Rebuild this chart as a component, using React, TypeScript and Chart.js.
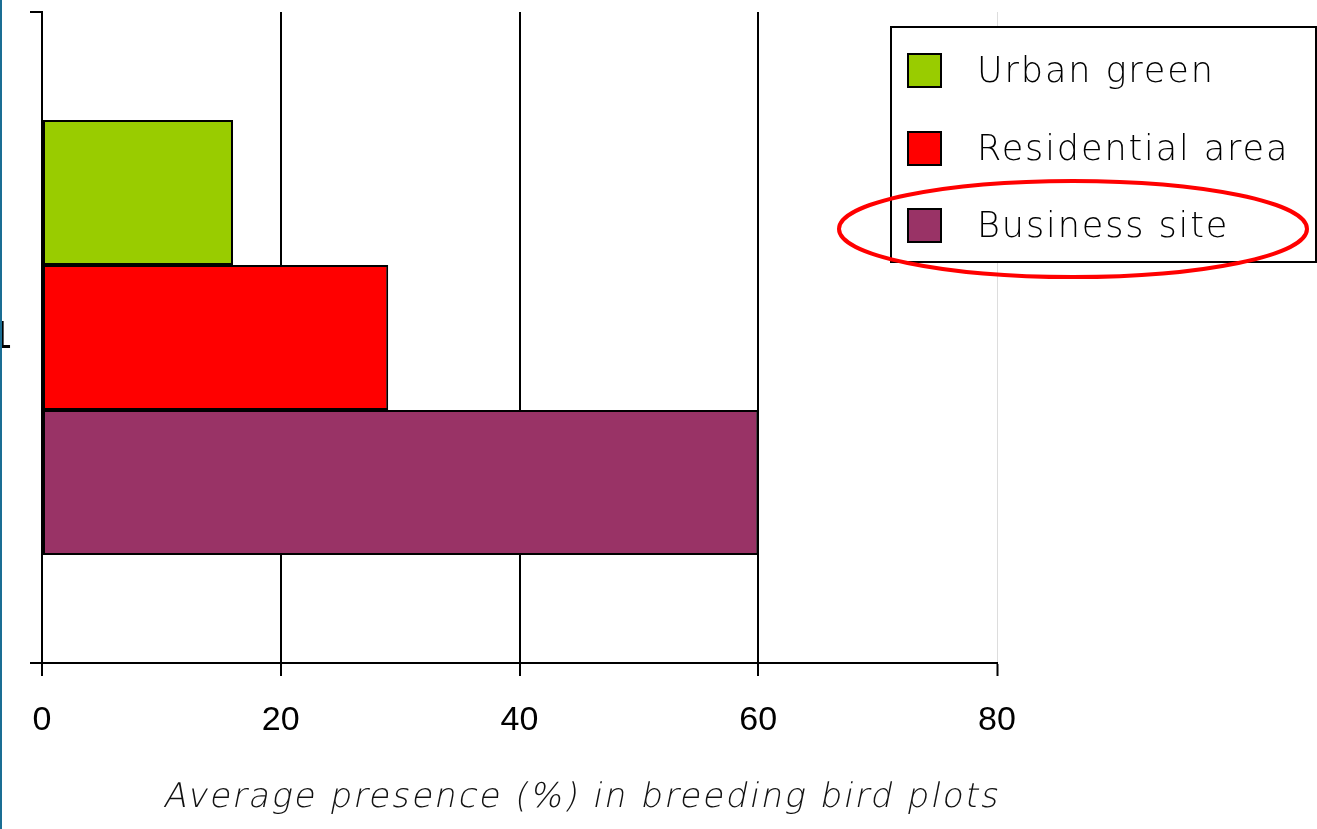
import React, { useEffect, useRef } from "react";
import { Chart, registerables } from "chart.js";

Chart.register(...registerables);

const categories = ["1"];
const seriesLabels = ["Urban green", "Residential area", "Business site"];
const urbanGreen = [16];
const residentialArea = [29];
const businessSite = [60];
const seriesColors = ["#99CC00", "#FF0000", "#993366"];
const xTicks = [0, 20, 40, 60, 80];
const xTitle = "Average presence (%) in breeding bird plots";
const highlightedSeries = 2;

const THIN_FONT = "'DejaVu Sans', 'Open Sans', sans-serif";

const legendPlugin = {
  id: "boxLegend",
  afterDraw(chart: any) {
    const ctx = chart.ctx as CanvasRenderingContext2D;
    const ds = chart.data.datasets;
    ctx.save();
    // axis title: thin face with a slant, right-aligned at the plot's end
    ctx.font = `200 34px ${THIN_FONT}`;
    const w = ctx.measureText(xTitle).width;
    const targetW = 836;
    const spacing = Math.max(0, (targetW - w) / xTitle.length);
    (ctx as any).letterSpacing = `${spacing.toFixed(2)}px`;
    ctx.fillStyle = "#111";
    ctx.textAlign = "right";
    ctx.textBaseline = "alphabetic";
    ctx.translate(999, 807);
    ctx.transform(1, 0, -0.2, 1, 0, 0);
    ctx.fillText(xTitle, 0, 0);
    ctx.setTransform(1, 0, 0, 1, 0, 0);
    (ctx as any).letterSpacing = "0px";
    ctx.textAlign = "left";

    const boxX = 891, boxY = 27, boxW = 425, boxH = 235;
    ctx.fillStyle = "#ffffff";
    ctx.fillRect(boxX, boxY, boxW, boxH);
    ctx.strokeStyle = "#000";
    ctx.lineWidth = 2;
    ctx.strokeRect(boxX, boxY, boxW, boxH);
    const rowCenters = [70, 148, 225];
    ctx.font = `200 35px ${THIN_FONT}`;
    ctx.textBaseline = "middle";
    ds.forEach((d: any, i: number) => {
      const cy = rowCenters[i];
      ctx.fillStyle = d.backgroundColor;
      ctx.fillRect(908, cy - 16, 33, 33);
      ctx.strokeStyle = "#000";
      ctx.lineWidth = 2;
      ctx.strokeRect(908, cy - 16, 33, 33);
      ctx.fillStyle = "#000";
      (ctx as any).letterSpacing = "1.9px";
      ctx.fillText(d.label, 977, cy + 3);
      (ctx as any).letterSpacing = "0px";
    });
    // highlight ellipse around the highlighted series
    const hy = rowCenters[highlightedSeries] + 4;
    ctx.beginPath();
    ctx.ellipse(1073, hy, 234, 48, 0, 0, Math.PI * 2);
    ctx.strokeStyle = "#FF0000";
    ctx.lineWidth = 4;
    ctx.stroke();
    ctx.restore();
  },
};

export default function App() {
  const ref = useRef<HTMLCanvasElement | null>(null);
  useEffect(() => {
    if (!ref.current) return;
    const values = [urbanGreen, residentialArea, businessSite];
    const chart = new Chart(ref.current, {
      type: "bar",
      data: {
        labels: categories,
        datasets: seriesLabels.map((label, i) => ({
          label,
          data: values[i],
          backgroundColor: seriesColors[i],
          borderColor: "#000",
          borderWidth: 2,
          borderSkipped: false,
          categoryPercentage: 0.668,
          barPercentage: 1,
        })),
      },
      options: {
        indexAxis: "y",
        responsive: false,
        animation: false,
        devicePixelRatio: 1,
        layout: { padding: { top: 12, right: 320, bottom: 0, left: 0 } },
        plugins: {
          legend: { display: false },
          tooltip: { enabled: false },
        },
        scales: {
          x: {
            min: 0,
            max: 80,
            afterBuildTicks: (scale: any) => {
              scale.ticks = xTicks.map((v) => ({ value: v }));
            },
            afterFit: (scale: any) => {
              scale.height = 166;
            },
            border: { display: true, color: "#000", width: 2 },
            grid: {
              color: (c: any) => (c.tick && c.tick.value === 80 ? "#dddddd" : "#000"),
              lineWidth: (c: any) => (c.tick && c.tick.value === 80 ? 1 : 2),
              tickColor: "#000",
              tickLength: 13,
              tickWidth: 2,
            },
            ticks: {
              color: "#000",
              font: { family: "'Liberation Sans', Arial, sans-serif", size: 34 },
              padding: 24,
              maxRotation: 0,
            },
            title: { display: false, text: xTitle },
          },
          y: {
            afterFit: (scale: any) => {
              scale.width = 42;
              scale.paddingTop = 0;
              scale.paddingBottom = 0;
            },
            border: { display: true, color: "#000", width: 2 },
            grid: {
              drawOnChartArea: false,
              offset: true,
              tickLength: 12,
              color: "#000",
              tickColor: "#000",
              lineWidth: 2,
            },
            ticks: {
              color: "#000",
              font: { family: "'Liberation Sans', Arial, sans-serif", size: 38 },
              padding: 18,
            },
          },
        },
      },
      plugins: [legendPlugin],
    } as any);
    return () => chart.destroy();
  }, []);
  return (
    <div style={{ position: "fixed", left: 0, top: 0, width: 1317, height: 829, background: "#fff" }}>
      <canvas ref={ref} width={1317} height={829} style={{ display: "block" }} />
      <div style={{ position: "absolute", left: 0, top: 0, width: 2, height: 829, background: "#1a6e94" }} />
    </div>
  );
}
